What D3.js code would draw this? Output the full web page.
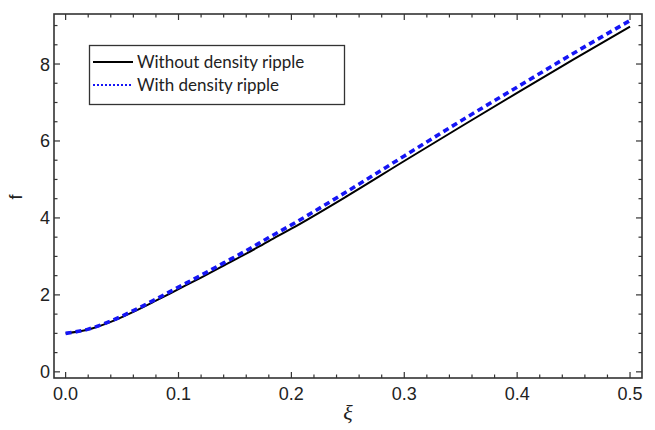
<!DOCTYPE html>
<html>
<head>
<meta charset="utf-8">
<script src="https://cdn.jsdelivr.net/npm/d3@7"></script>
<style>
  html, body { margin: 0; padding: 0; background: #fff; }
  svg { display: block; }
</style>
</head>
<body>
<svg id="chart" width="655" height="430"></svg>
<script>
// Dimensionless coordinate ξ and the function f for both cases
const xi = [0.00, 0.02, 0.04, 0.06, 0.08, 0.10, 0.12, 0.14, 0.16, 0.18, 0.20, 0.25, 0.30, 0.35, 0.40, 0.45, 0.50];
const fWithout = [1.00, 1.10, 1.30, 1.56, 1.85, 2.15, 2.45, 2.76, 3.07, 3.40, 3.72, 4.58, 5.48, 6.37, 7.25, 8.12, 8.97];
const fWith    = [1.00, 1.11, 1.32, 1.59, 1.89, 2.20, 2.51, 2.83, 3.15, 3.49, 3.82, 4.70, 5.61, 6.52, 7.40, 8.28, 9.13];

const xTicks = [0.0, 0.1, 0.2, 0.3, 0.4, 0.5];
const yTicks = [0, 2, 4, 6, 8];
const seriesNames = ["Without density ripple", "With density ripple"];

const svg = d3.select("#chart");
const frame = { left: 54, top: 14, right: 642, bottom: 378 };

const x = d3.scaleLinear().domain([-0.0103, 0.5106]).range([frame.left, frame.right]);
const y = d3.scaleLinear().domain([-0.16, 9.3]).range([frame.bottom, frame.top]);

const axisColor = "#333";
const labelFont = "'Liberation Sans', Arial, sans-serif";

// minor tick positions
const xMinor = d3.range(0, 0.5001, 0.02).filter(v => Math.abs(v * 10 - Math.round(v * 10)) > 1e-6);
const yMinor = d3.range(0, 9.01, 0.5).filter(v => Math.abs(v - 2 * Math.round(v / 2)) > 1e-6);

const ticks = svg.append("g").attr("stroke", axisColor).attr("stroke-width", 1.2);
function tickSet(vals, len, horizontal) {
  vals.forEach(v => {
    if (horizontal) {
      const px = x(v);
      ticks.append("line").attr("x1", px).attr("x2", px).attr("y1", frame.bottom).attr("y2", frame.bottom - len);
      ticks.append("line").attr("x1", px).attr("x2", px).attr("y1", frame.top).attr("y2", frame.top + len);
    } else {
      const py = y(v);
      ticks.append("line").attr("y1", py).attr("y2", py).attr("x1", frame.left).attr("x2", frame.left + len);
      ticks.append("line").attr("y1", py).attr("y2", py).attr("x1", frame.right).attr("x2", frame.right - len);
    }
  });
}
tickSet(xTicks, 6, true);
tickSet(xMinor, 3.5, true);
tickSet(yTicks, 6, false);
tickSet(yMinor, 3.5, false);

// curves
const line = (ys) => d3.line()
  .x((d, i) => x(xi[i]))
  .y((d, i) => y(ys[i]))
  .curve(d3.curveMonotoneX)(ys);

svg.append("path").attr("d", line(fWithout))
  .attr("fill", "none").attr("stroke", "#000").attr("stroke-width", 2);
svg.append("path").attr("d", line(fWith))
  .attr("fill", "none").attr("stroke", "#1515f5").attr("stroke-width", 3.6)
  .attr("stroke-dasharray", "6,4");

// frame
svg.append("rect")
  .attr("x", frame.left).attr("y", frame.top)
  .attr("width", frame.right - frame.left).attr("height", frame.bottom - frame.top)
  .attr("fill", "none").attr("stroke", axisColor).attr("stroke-width", 1.6);

// tick labels
svg.append("g").selectAll("text").data(xTicks).join("text")
  .attr("x", d => x(d)).attr("y", 400)
  .attr("text-anchor", "middle")
  .attr("font-family", labelFont).attr("font-size", 18).attr("fill", "#222")
  .text(d => d3.format(".1f")(d));

svg.append("g").selectAll("text").data(yTicks).join("text")
  .attr("x", 50).attr("y", d => y(d) + 6.5)
  .attr("text-anchor", "end")
  .attr("font-family", labelFont).attr("font-size", 18).attr("fill", "#222")
  .text(d => d);

// axis titles
svg.append("text")
  .attr("x", 348).attr("y", 420)
  .attr("text-anchor", "middle")
  .attr("font-family", "'Liberation Serif', 'Times New Roman', serif")
  .attr("font-style", "italic").attr("font-size", 22).attr("fill", "#222")
  .text("ξ");

svg.append("text")
  .attr("transform", "translate(22,197) rotate(-90)")
  .attr("text-anchor", "middle")
  .attr("font-family", labelFont).attr("font-size", 18).attr("fill", "#222")
  .text("f");

// legend
const legend = svg.append("g");
legend.append("rect")
  .attr("x", 89.5).attr("y", 45.5).attr("width", 255).attr("height", 59)
  .attr("fill", "#fff").attr("stroke", axisColor).attr("stroke-width", 1.3);
legend.append("line").attr("x1", 93).attr("x2", 133).attr("y1", 62).attr("y2", 62)
  .attr("stroke", "#000").attr("stroke-width", 2);
legend.append("line").attr("x1", 93).attr("x2", 133).attr("y1", 85).attr("y2", 85)
  .attr("stroke", "#1515f5").attr("stroke-width", 2).attr("stroke-dasharray", "2,2");
legend.selectAll("text.entry").data(seriesNames).join("text")
  .attr("class", "entry")
  .attr("x", 137).attr("y", (d, i) => 68 + i * 23)
  .attr("font-family", "Lato, 'Open Sans', sans-serif").attr("font-size", 17).attr("fill", "#222")
  .text(d => d);
</script>
</body>
</html>
